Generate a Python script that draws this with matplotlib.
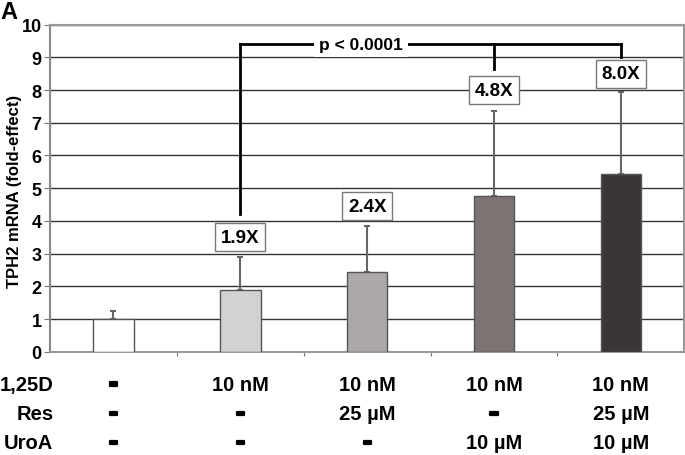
import matplotlib.pyplot as plt
import matplotlib.transforms as mtransforms
import matplotlib.patheffects as pe

plt.rcParams["font.family"] = ["Liberation Sans", "DejaVu Sans"]
plt.rcParams["font.weight"] = "bold"

# Data
groups = ["ctrl", "D", "D+Res", "D+UroA", "D+Res+UroA"]
fold = [1.0, 1.88, 2.43, 4.77, 5.45]
err_up = [0.26, 1.02, 1.42, 2.59, 2.5]
bar_colors = ["#ffffff", "#d2d2d2", "#aca8a7", "#7b7473", "#3b3536"]
fold_labels = ["", "1.9X", "2.4X", "4.8X", "8.0X"]
label_y = [None, 3.5, 4.45, 8.0, 8.5]

row_names = ["1,25D", "Res", "UroA"]
row_values = [
    ["-", "10 nM", "10 nM", "10 nM", "10 nM"],
    ["-", "-", "25 \u00b5M", "-", "25 \u00b5M"],
    ["-", "-", "-", "10 \u00b5M", "10 \u00b5M"],
]

fig = plt.figure(figsize=(6.85, 4.56), dpi=100)
ax = fig.add_axes([0.073, 0.226, 0.926, 0.718])

x = list(range(len(groups)))
ax.bar(x, fold, width=0.32, color=bar_colors, edgecolor="#555555", linewidth=1, zorder=3)
ax.errorbar(x, fold, yerr=[[0] * len(fold), err_up], fmt="none", ecolor="#666666",
            elinewidth=1.5, capsize=2, capthick=1.5, zorder=2)

# fold labels in boxes
for i in range(1, len(groups)):
    ax.text(x[i], label_y[i], fold_labels[i], ha="center", va="center", fontsize=13.5,
            fontweight="bold", zorder=5,
            bbox=dict(boxstyle="square,pad=0.3", fc="white", ec="#777777", lw=1))

# significance bracket
top = 9.4
ax.plot([1, 1], [4.2, top], color="black", lw=2, zorder=4)
ax.plot([1, 4], [top, top], color="black", lw=2, zorder=4)
ax.plot([3, 3], [top, 8.65], color="black", lw=2, zorder=4)
ax.plot([4, 4], [top, 9.0], color="black", lw=2, zorder=4)
ax.text(1.95, top, "p < 0.0001", ha="center", va="center", fontsize=12.5, fontweight="bold",
        zorder=5, bbox=dict(boxstyle="square,pad=0.3", fc="white", ec="none"))

ax.set_xlim(-0.5, 4.5)
ax.set_ylim(0, 10)
ax.set_yticks(range(0, 11))
ax.yaxis.grid(True, color="#333333", lw=1, zorder=0)
ax.set_axisbelow(True)
ax.set_xticks([0.5, 1.5, 2.5, 3.5])
ax.set_xticklabels([])
ax.tick_params(axis="x", length=3, color="#777777", direction="out")
ax.tick_params(axis="y", length=4, color="#777777", labelsize=13, pad=2)
for t in ax.get_yticklabels():
    t.set_fontweight("bold")
for s in ax.spines.values():
    s.set_color("#999999")
    s.set_linewidth(1.5)
ax.spines["left"].set_color("#888888")

fig.text(0.021, 0.58, "TPH2 mRNA (fold-effect)", rotation=90, ha="center", va="center",
         fontsize=12, fontweight="bold")

# condition table under the axis
trans = mtransforms.blended_transform_factory(ax.transData, fig.transFigure)
row_y = [0.155, 0.09, 0.027]
thick = [pe.Stroke(linewidth=1.6, foreground="black"), pe.Normal()]
for r, name in enumerate(row_names):
    fig.text(0.078, row_y[r], name, ha="right", va="center", fontsize=14.5, fontweight="bold")
    for i, val in enumerate(row_values[r]):
        if val == "-":
            ax.text(x[i], row_y[r], val, transform=trans, ha="center", va="center",
                    fontsize=20, fontweight="bold", path_effects=thick)
        else:
            ax.text(x[i], row_y[r], val, transform=trans, ha="center", va="center",
                    fontsize=14.5, fontweight="bold")

fig.text(0.0, 0.998, "A", ha="left", va="top", fontsize=17, fontweight="bold")

fig.savefig("out.png", dpi=100)
